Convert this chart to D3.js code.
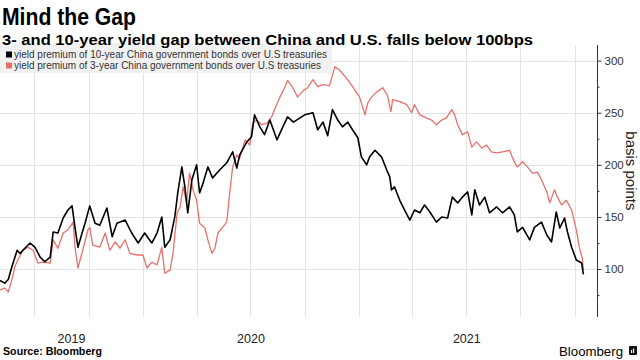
<!DOCTYPE html>
<html>
<head>
<meta charset="utf-8">
<script src="https://cdn.jsdelivr.net/npm/d3@7"></script>
<style>
  html, body { margin: 0; padding: 0; background: #fff; }
  svg { display: block; font-family: "Liberation Sans", Arial, sans-serif; }
</style>
</head>
<body>
<svg id="chart" width="640" height="360"></svg>
<script>
// ---- Data ----
const title = "Mind the Gap";
const subtitle = "3- and 10-year yield gap between China and U.S. falls below 100bps";
const seriesNames = [
  "yield premium of 10-year China government bonds over U.S treasuries",
  "yield premium of 3-year China government bonds over U.S treasuries"
];
const yTicks = [100, 150, 200, 250, 300];
const yMinorTicks = [75, 125, 175, 225, 275];
const yearLabels = ["2019", "2020", "2021"];
const yearStarts = ["2019-01-01", "2020-01-01", "2021-01-01", "2022-01-01"];

const dates10 = ["2019-05-04","2019-05-12","2019-05-18","2019-05-24","2019-06-02","2019-06-07","2019-06-15","2019-06-24","2019-07-02","2019-07-11","2019-07-19","2019-07-28","2019-08-02","2019-08-10","2019-08-19","2019-08-27","2019-09-03","2019-09-08","2019-09-13","2019-09-20","2019-09-25","2019-10-03","2019-10-12","2019-10-20","2019-11-01","2019-11-10","2019-11-18","2019-12-02","2019-12-13","2019-12-24","2020-01-04","2020-01-16","2020-01-25","2020-02-02","2020-02-07","2020-02-16","2020-02-24","2020-02-29","2020-03-07","2020-03-12","2020-03-17","2020-03-24","2020-04-01","2020-04-06","2020-04-12","2020-04-20","2020-04-28","2020-05-10","2020-05-22","2020-06-01","2020-06-08","2020-06-13","2020-06-25","2020-07-03","2020-07-08","2020-07-17","2020-07-25","2020-08-03","2020-08-15","2020-08-25","2020-09-02","2020-09-12","2020-09-23","2020-10-01","2020-10-15","2020-10-23","2020-11-01","2020-11-09","2020-11-17","2020-11-26","2020-12-04","2020-12-13","2020-12-21","2020-12-30","2021-01-05","2021-01-14","2021-01-19","2021-01-28","2021-02-08","2021-02-17","2021-02-22","2021-02-25","2021-03-02","2021-03-11","2021-03-19","2021-03-28","2021-04-05","2021-04-14","2021-04-22","2021-05-01","2021-05-12","2021-05-21","2021-05-31","2021-06-08","2021-06-17","2021-06-25","2021-07-04","2021-07-11","2021-07-16","2021-07-24","2021-08-02","2021-08-10","2021-08-22","2021-09-01","2021-09-13","2021-09-21","2021-09-26","2021-10-05","2021-10-17","2021-10-25","2021-11-06","2021-11-15","2021-11-23","2021-12-01","2021-12-07","2021-12-15","2021-12-20","2021-12-27","2022-01-04","2022-01-13","2022-01-16"];
const gap10 = [89,86.5,90,102,118,115,120,125,121,111.5,107,111.5,135.5,134.6,149,156.7,160.6,140,121,134.6,144,160.6,144,142,158.6,131,144,147,134.6,125,134.6,125,134.6,150,121,128,150,173,198,179,154,185.6,200,173,182.7,198,187.5,195,202,212.5,197,209.6,222,227,248,236.5,229,243,224,236.5,246,241,245,248,250,233.7,241,228,253,243,236.5,241,233.7,226,207.7,200,207.7,214,207.7,195,188.5,176,179,166,156.7,147,156.7,154,161.5,154.8,145,150,149,169,163.5,169,174,152,176,161.5,169,154,159.6,154,159.6,152,135.6,140,128,140,145,132.7,126,154.8,139.4,149,135.6,121,108.7,105.8,95];

const dates3 = ["2019-05-04","2019-05-12","2019-05-18","2019-05-24","2019-05-29","2019-06-03","2019-06-12","2019-06-20","2019-06-29","2019-07-07","2019-07-16","2019-07-28","2019-08-02","2019-08-10","2019-08-19","2019-08-27","2019-09-05","2019-09-08","2019-09-13","2019-09-21","2019-09-30","2019-10-03","2019-10-08","2019-10-20","2019-10-29","2019-11-06","2019-11-15","2019-11-23","2019-12-02","2019-12-10","2019-12-22","2020-01-01","2020-01-08","2020-01-16","2020-01-25","2020-02-02","2020-02-07","2020-02-16","2020-02-21","2020-02-28","2020-03-04","2020-03-09","2020-03-15","2020-03-20","2020-03-26","2020-04-01","2020-04-06","2020-04-15","2020-04-20","2020-04-27","2020-05-02","2020-05-07","2020-05-15","2020-05-22","2020-05-27","2020-06-01","2020-06-08","2020-06-13","2020-06-22","2020-06-30","2020-07-05","2020-07-12","2020-07-20","2020-07-29","2020-08-06","2020-08-11","2020-08-20","2020-08-28","2020-09-02","2020-09-11","2020-09-19","2020-09-28","2020-10-06","2020-10-15","2020-10-23","2020-11-01","2020-11-12","2020-11-21","2020-11-29","2020-12-11","2020-12-21","2021-01-02","2021-01-11","2021-01-16","2021-01-22","2021-01-31","2021-02-10","2021-02-18","2021-02-24","2021-02-27","2021-03-11","2021-03-23","2021-03-31","2021-04-05","2021-04-14","2021-04-25","2021-05-04","2021-05-12","2021-05-21","2021-05-29","2021-06-07","2021-06-12","2021-06-17","2021-06-25","2021-07-04","2021-07-11","2021-07-19","2021-07-28","2021-08-05","2021-08-13","2021-08-22","2021-09-01","2021-09-13","2021-09-18","2021-09-26","2021-10-05","2021-10-13","2021-10-22","2021-10-30","2021-11-06","2021-11-15","2021-11-20","2021-11-28","2021-12-03","2021-12-10","2021-12-18","2021-12-27","2022-01-04","2022-01-09","2022-01-14","2022-01-16"];
const gap3 = [80,81.7,78,89.4,102,108.7,118,121,118,105.8,106.7,105.8,128,120,134.6,137.5,145,121,101,118,137.5,140,123,121,134.6,118,126,120,128,115,113.5,113.5,101,106.7,104,121,96,99,115,154,159.6,179,163.5,192,176,166,144,139.4,128,115,120,134.6,140,145,173,198,209.6,206.7,224,219,240,243,238.5,240,246,253,265,274,281,274,265,271,274,281.7,275,277,276,294,291,283,275,265,248,259.6,265,270,274,267,251,262.5,260.6,257.7,250,257.7,248,245,243,238.5,243,245,253,248,238.5,229,231.7,217,222,216,219,212.5,211.5,212.5,214,206.7,198,203,198,192,193,185.6,174,163.5,176,169,161.5,166,156.7,137.5,121,110.6,99];

// ---- Chart ----
const parse = d3.timeParse("%Y-%m-%d");
const series = [
  { name: seriesNames[0], color: "#000000", width: 1.6, pts: dates10.map((d, i) => ({ date: parse(d), v: gap10[i] })) },
  { name: seriesNames[1], color: "#e7716d", width: 1.3, pts: dates3.map((d, i) => ({ date: parse(d), v: gap3[i] })) }
];

const plot = { left: 0, right: 597, top: 45, bottom: 317 };
const x = d3.scaleTime()
  .domain([parse("2019-05-04"), parse("2022-02-08")])
  .range([plot.left, plot.right]);
const y = d3.scaleLinear().domain([54, 315]).range([plot.bottom, plot.top]);

const svg = d3.select("#chart");

// vertical quarterly gridlines
const quarters = d3.timeMonth.every(3).range(x.domain()[0], x.domain()[1]);
svg.append("g").selectAll("line").data(quarters).join("line")
  .attr("x1", d => Math.round(x(d)) + 0.5).attr("x2", d => Math.round(x(d)) + 0.5)
  .attr("y1", plot.top).attr("y2", plot.bottom)
  .attr("stroke", "#e4e4e4").attr("stroke-width", 1);

// horizontal gridlines
svg.append("g").selectAll("line").data(yTicks).join("line")
  .attr("x1", plot.left).attr("x2", plot.right)
  .attr("y1", d => Math.round(y(d)) + 0.5).attr("y2", d => Math.round(y(d)) + 0.5)
  .attr("stroke", "#e2e2e2").attr("stroke-width", 1);

// lines (red first, black on top)
const line = d3.line().x(d => x(d.date)).y(d => y(d.v)).curve(d3.curveLinear);
svg.append("g").selectAll("path").data(series.slice().reverse()).join("path")
  .attr("d", d => line(d.pts))
  .attr("fill", "none")
  .attr("stroke", d => d.color)
  .attr("stroke-width", d => d.width)
  .attr("stroke-linejoin", "round");

// right axis
const yAxis = d3.axisRight(y).tickValues(yTicks).tickSize(4).tickPadding(3);
const ax = svg.append("g").attr("transform", `translate(${plot.right + 0.5},0)`).call(yAxis);
ax.select(".domain").attr("d", `M0,${plot.top}V${plot.bottom}`).attr("stroke", "#333");
ax.selectAll(".tick line").attr("stroke", "#333");
ax.selectAll(".tick text").attr("fill", "#333").style("font-size", "11.5px")
  .style("font-family", "'Liberation Sans', Arial, sans-serif");
const minor = d3.axisRight(y).tickValues(yMinorTicks).tickSize(2).tickFormat("");
const axm = svg.append("g").attr("transform", `translate(${plot.right + 0.5},0)`).call(minor);
axm.select(".domain").remove();
axm.selectAll(".tick line").attr("stroke", "#333");

// y axis title
svg.append("text")
  .attr("transform", `translate(626,${(y(200)+y(150))/2 - 20}) rotate(90)`)
  .attr("text-anchor", "middle")
  .attr("fill", "#222")
  .style("font-size", "15px")
  .text("basis points");

// year labels, centred within the visible part of each year
const yearSpans = yearLabels.map((lab, i) => {
  const a = Math.max(x(parse(yearStarts[i])), plot.left);
  const b = Math.min(x(parse(yearStarts[i + 1])), plot.right);
  return { lab, cx: (a + b) / 2 };
});
svg.append("g").selectAll("text").data(yearSpans).join("text")
  .attr("x", d => d.cx).attr("y", 343)
  .attr("text-anchor", "middle")
  .attr("fill", "#222")
  .style("font-size", "12.5px")
  .text(d => d.lab);

// legend
svg.append("rect").attr("x", 0).attr("y", 43).attr("width", 332).attr("height", 30).attr("fill", "#f1f1f1");
const lg = svg.append("g").selectAll("g").data(series).join("g")
  .attr("transform", (d, i) => `translate(0,${i * 11})`);
lg.append("rect").attr("x", 6).attr("y", 51.5).attr("width", 6).attr("height", 6).attr("fill", d => d.color);
lg.append("text").attr("x", 14).attr("y", 58)
  .attr("fill", "#333").style("font-size", "11px")
  .attr("textLength", (d, i) => i === 0 ? 313 : 307).attr("lengthAdjust", "spacingAndGlyphs")
  .text(d => d.name);

// titles
svg.append("text").attr("x", 2).attr("y", 25)
  .attr("fill", "#000").style("font-size", "24px").style("font-weight", "bold")
  .attr("textLength", 134).attr("lengthAdjust", "spacingAndGlyphs")
  .text(title);
svg.append("text").attr("x", 2).attr("y", 44.5)
  .attr("fill", "#000").style("font-size", "14px").style("font-weight", "bold")
  .attr("textLength", 531).attr("lengthAdjust", "spacingAndGlyphs")
  .text(subtitle);

// footer
svg.append("text").attr("x", 3).attr("y", 355)
  .attr("fill", "#000").style("font-size", "10px").style("font-weight", "bold")
  .attr("textLength", 99).attr("lengthAdjust", "spacingAndGlyphs")
  .text("Source: Bloomberg");
svg.append("text").attr("x", 559).attr("y", 355.5)
  .attr("fill", "#000").style("font-size", "13px")
  .attr("textLength", 64).attr("lengthAdjust", "spacingAndGlyphs")
  .text("Bloomberg");
svg.append("rect").attr("x", 629).attr("y", 346).attr("width", 8).attr("height", 9).attr("rx", 1).attr("fill", "#111");
svg.append("rect").attr("x", 631).attr("y", 350).attr("width", 1.2).attr("height", 3).attr("fill", "#fff");
svg.append("rect").attr("x", 633).attr("y", 348.5).attr("width", 1.2).attr("height", 4.5).attr("fill", "#fff");
</script>
</body>
</html>
